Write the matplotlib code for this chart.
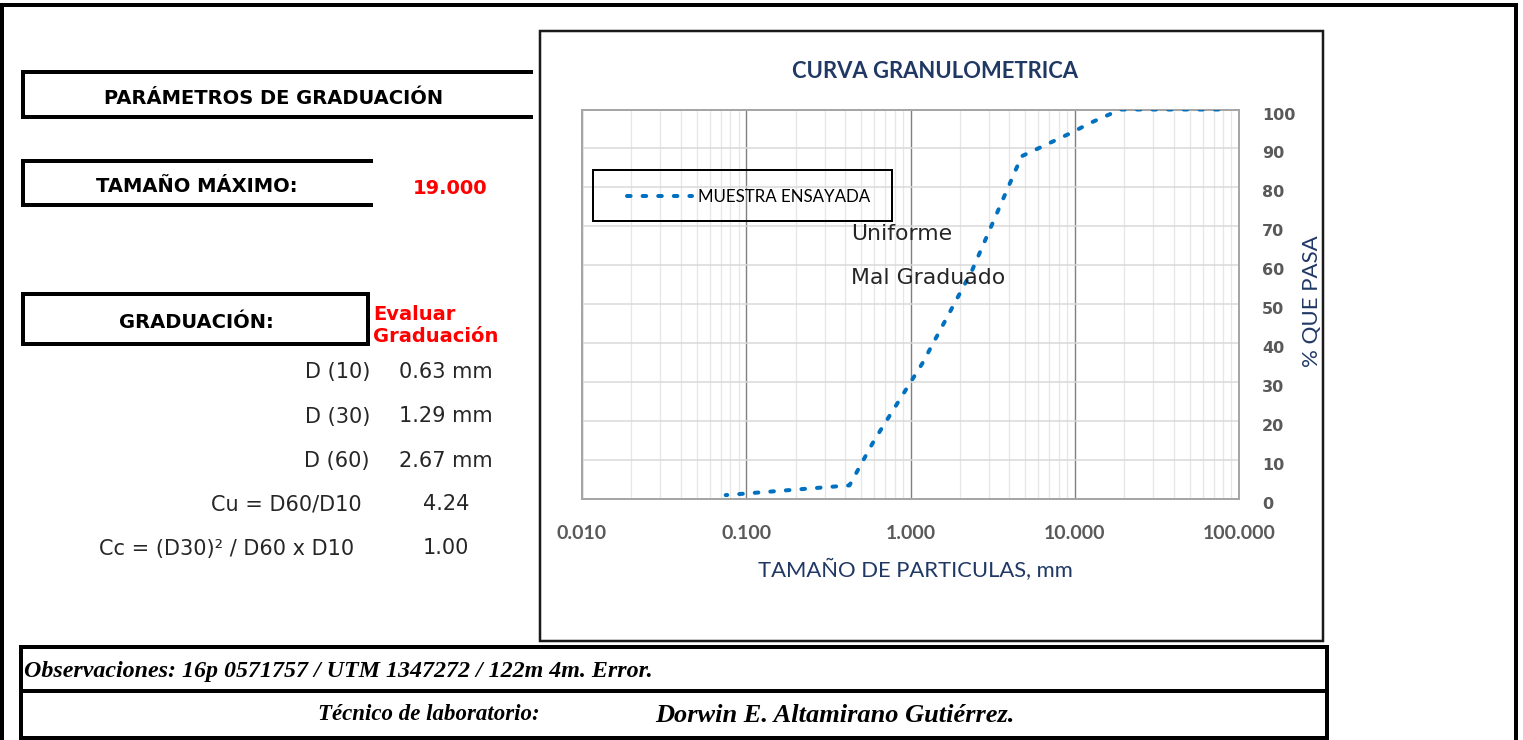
import matplotlib
matplotlib.use("Agg")
import matplotlib.pyplot as plt
from matplotlib.patches import Rectangle
from matplotlib.transforms import ScaledTranslation
from matplotlib.ticker import FixedLocator, LogLocator, NullFormatter

# granulometria: abertura del tamiz (mm) y porcentaje que pasa
tamiz_mm = [75, 50, 37.5, 25, 19, 12.5, 9.5, 4.75, 2.36, 1.18, 0.6, 0.425, 0.3, 0.15, 0.075]
pasa = [100, 100, 100, 100, 100, 96.6, 94.0, 88.0, 58.5, 34.8, 15.0, 3.5, 3.0, 2.0, 1.0]

x_ticks = [0.01, 0.1, 1, 10, 100]
y_ticks = list(range(0, 101, 10))

tamano_maximo = "19.000"
graduacion = "Evaluar\nGraduación"
d_labels = ["D (10)", "D (30)", "D (60)"]
d_values = ["0.63 mm", "1.29 mm", "2.67 mm"]
coef_labels = ["Cu = D60/D10", "Cc = (D30)² / D60 x D10"]
coef_values = ["4.24", "1.00"]
clasificacion = ["Uniforme", "Mal Graduado"]
observaciones = "Observaciones: 16p 0571757 / UTM 1347272 / 122m 4m. Error."
tecnico = "Técnico de laboratorio:"
tecnico_nombre = "Dorwin E. Altamirano Gutiérrez."

NAVY = "#203864"
GRAY = "#595959"
BLUE = "#0070C0"
RED = "#FF0000"

W, H = 1523, 740
PX = 0.72  # points per pixel at dpi 100

fig = plt.figure(figsize=(W / 100, H / 100), dpi=100)

# fondo en coordenadas de pixel
bg = fig.add_axes([0, 0, 1, 1])
bg.set_xlim(0, W)
bg.set_ylim(H, 0)
bg.axis("off")


def seg(xs, ys, lw=4, color="black"):
    bg.plot(xs, ys, color=color, lw=lw * PX, solid_capstyle="projecting",
            solid_joinstyle="miter")


# marco exterior
seg([2, 2, 1516, 1516], [745, 5, 5, 745])

# cajas de la izquierda
seg([531, 23, 23, 531], [72, 72, 117, 117])
seg([371, 23, 23, 371], [161, 161, 205, 205])
seg([23, 368, 368, 23, 23], [294, 294, 344, 344, 294])

# cajas de observaciones
seg([21.5, 1327, 1327, 21.5, 21.5], [647, 647, 737.5, 737.5, 647])
seg([21.5, 1327], [691, 691])

# caja del grafico
bg.add_patch(Rectangle((540.5, 31), 1323 - 540.5, 641 - 31, facecolor="white",
                       edgecolor="#1a1a1a", lw=2.5 * PX))

bold = dict(family="DejaVu Sans", weight="bold", fontsize=14)
reg = dict(family="DejaVu Sans", fontsize=15)
bg.text(274, 99, "PARÁMETROS DE GRADUACIÓN", ha="center", va="center", **bold)
bg.text(197, 187, "TAMAÑO MÁXIMO:", ha="center", va="center", **bold)
bg.text(450, 189, tamano_maximo, ha="center", va="center", color=RED, **bold)
bg.text(196, 323, "GRADUACIÓN:", ha="center", va="center", **bold)
bg.text(373, 325, graduacion, ha="left", va="center", color=RED,
        linespacing=1.2, **bold)

for i, (lab, val) in enumerate(zip(d_labels, d_values)):
    y = 372 + i * 44.5
    bg.text(370, y, lab, ha="right", va="center", color="#262626", **reg)
    bg.text(446, y, val, ha="center", va="center", color="#262626", **reg)

for i, (lab, val) in enumerate(zip(coef_labels, coef_values)):
    y = 504 + i * 44.5
    bg.text(362 - i * 8, y, lab, ha="right", va="center", color="#262626", **reg)
    bg.text(446, y, val, ha="center", va="center", color="#262626", **reg)

serif = dict(family="Liberation Serif", weight="bold", style="italic")
bg.text(24, 671, observaciones, ha="left", va="center", fontsize=17.3, **serif)
bg.text(318, 715, tecnico, ha="left", va="center", fontsize=16.5, **serif)
bg.text(655, 715, tecnico_nombre, ha="left", va="center", fontsize=19, **serif)

# area de trazado
x0, x1, y0, y1 = 582, 1239, 109.5, 499
ax = fig.add_axes([x0 / W, 1 - y1 / H, (x1 - x0) / W, (y1 - y0) / H])
ax.set_xscale("log")
ax.set_xlim(0.01, 100)
ax.set_ylim(0, 100)

ax.plot(tamiz_mm, pasa, color=BLUE, lw=4 * PX, ls=(0, (0.9, 3.0)),
        dash_capstyle="round", label="MUESTRA ENSAYADA", zorder=4)

ax.xaxis.set_major_locator(FixedLocator(x_ticks))
ax.xaxis.set_minor_locator(LogLocator(base=10, subs=range(2, 10)))
ax.xaxis.set_minor_formatter(NullFormatter())
ax.set_xticklabels([f"{t:.3f}" for t in x_ticks])
ax.yaxis.set_major_locator(FixedLocator(y_ticks))

ax.grid(which="minor", axis="x", color="#E6E6E6", lw=1.3 * PX)
ax.grid(which="major", axis="y", color="#D9D9D9", lw=1.5 * PX)
ax.grid(which="major", axis="x", color="#808080", lw=1.4 * PX)
ax.set_axisbelow(True)
for s in ax.spines.values():
    s.set_color("#A6A6A6")
    s.set_linewidth(2 * PX)

ax.tick_params(which="both", length=0)
ax.yaxis.tick_right()
ax.tick_params(axis="y", pad=16.5, labelsize=11.5, labelcolor=GRAY)
ax.tick_params(axis="x", pad=19, labelsize=14, labelcolor=GRAY)
for lbl in ax.get_yticklabels():
    lbl.set_fontfamily("DejaVu Sans")
    lbl.set_fontweight("bold")
    lbl.set_horizontalalignment("left")
    lbl.set_transform(lbl.get_transform() + ScaledTranslation(0, -0.04, fig.dpi_scale_trans))
for lbl in ax.get_xticklabels():
    lbl.set_fontfamily("Lato")
    lbl.set_fontweight("bold")

ax.set_xlabel("TAMAÑO DE PARTICULAS, mm", family="Lato", fontsize=15.8, color=NAVY)
ax.xaxis.set_label_coords((915 - x0) / (x1 - x0), (y1 - 570) / (y1 - y0))
ax.xaxis.label.set_verticalalignment("center")
ax.yaxis.set_label_position("right")
ax.set_ylabel("% QUE PASA", family="Lato", fontsize=16, color=NAVY, rotation=90)
ax.yaxis.set_label_coords((1312 - x0) / (x1 - x0), (y1 - 301) / (y1 - y0))
ax.yaxis.label.set_verticalalignment("center")

ax.text(935, 71, "CURVA GRANULOMETRICA", transform=bg.transData, ha="center",
        va="center", family="Lato", weight="bold", fontsize=15.8, color=NAVY,
        clip_on=False)

# leyenda con su marco
ax.add_patch(Rectangle((593, 170), 299, 51, transform=bg.transData, fill=False,
                       edgecolor="black", lw=2 * PX, clip_on=False, zorder=6))
fs_leg = 12.2
ax.legend(loc="center left", bbox_to_anchor=(627, 197), bbox_transform=bg.transData,
          frameon=False, borderpad=0, borderaxespad=0,
          handlelength=65 / (fs_leg / PX), handletextpad=6 / (fs_leg / PX),
          prop=dict(family="Lato", size=fs_leg))

for i, txt in enumerate(clasificacion):
    ax.text(851, 234 + i * 43.5, txt, transform=bg.transData, ha="left",
            va="center", family="DejaVu Sans", fontsize=15.8, color="#262626",
            clip_on=False, zorder=5)

fig.savefig("out.png", dpi=100)
